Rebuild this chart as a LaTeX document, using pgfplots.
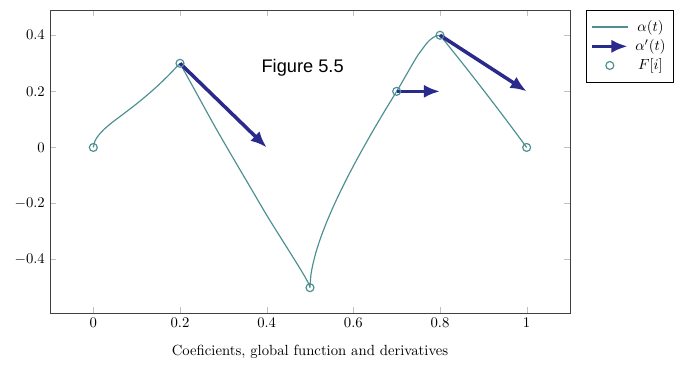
\documentclass[border=0pt]{standalone}
\usepackage{pgfplots}
\pgfplotsset{compat=1.18}
\usepackage{fontspec}
\newfontfamily\helv{Liberation Sans}
\usetikzlibrary{arrows.meta}
\definecolor{tealc}{RGB}{77,144,146}
\definecolor{arrc}{RGB}{42,42,140}
\pgfplotsset{
  alphalegend/.style={legend image code/.code={\draw[draw=tealc, line width=1pt] (0cm,0cm) -- (0.85cm,0cm);}},
  arrowlegend/.style={legend image code/.code={\draw[draw=arrc, fill=arrc, line width=2.4pt, -{Latex[length=11pt,width=9pt]}] (0cm,0cm) -- (0.85cm,0cm);}},
  mymarklegend/.style={legend image code/.code={\draw[##1] plot coordinates {(0.425cm,0cm)};}},
}
\begin{document}
\begin{tikzpicture}
\useasboundingbox (-34pt,-35.4pt) rectangle (425pt,212.8pt);
\begin{axis}[
  scale only axis, width=353.6pt, height=206pt,
  xmin=-0.1, xmax=1.1, ymin=-0.59, ymax=0.49,
  xtick={0,0.2,0.4,0.6,0.8,1}, ytick={-0.4,-0.2,0,0.2,0.4},
  xlabel={Coeficients, global function and derivatives},
  xlabel style={yshift=-5pt},
  axis line style={black!75},
  major tick style={black!25},
  legend pos=outer north east,
  legend style={inner ysep=5pt, column sep=2pt},
  unbounded coords=jump,
]
\addplot[tealc, draw=tealc, thick, smooth, tension=0.45, alphalegend] coordinates {
 (0,0) (0.004,0.024) (0.012,0.043) (0.025,0.065) (0.045,0.091) (0.07,0.120) (0.1,0.1557) (0.125,0.1876) (0.15,0.2220) (0.175,0.2594) (0.2,0.3)
 (0.2,nan)
 (0.2,0.3) (0.24,0.188) (0.28,0.076) (0.32,-0.031) (0.36,-0.136) (0.40,-0.2413) (0.43,-0.3157) (0.455,-0.3771) (0.475,-0.4268) (0.488,-0.4603) (0.496,-0.483) (0.499,-0.4936) (0.5,-0.5)
 (0.5,nan)
 (0.5,-0.5) (0.502,-0.4566) (0.506,-0.4212) (0.514,-0.3724) (0.525,-0.3202) (0.54,-0.2603) (0.56,-0.190) (0.585,-0.1109) (0.61,-0.0377) (0.64,0.0451) (0.67,0.124) (0.7,0.2)
 (0.71,0.2259) (0.72,0.2528) (0.74,0.3064) (0.75,0.3313) (0.77,0.3726) (0.78,0.3872) (0.79,0.3967) (0.8,0.4)
 (0.8,nan)
 (0.8,0.4) (0.84,0.3232) (0.88,0.2448) (0.92,0.1648) (0.96,0.0832) (1,0)
};
\addlegendentry{$\alpha(t)$}
\addplot[arrc, draw=arrc, fill=arrc, line width=2.4pt, -{Latex[length=11pt,width=9pt]},
  quiver={u=\thisrow{u}, v=\thisrow{v}}, arrowlegend] table {
x y u v
0.2 0.3 0.2 -0.3
0.7 0.2 0.1 0
0.8 0.4 0.2 -0.2
};
\addlegendentry{$\alpha'(t)$}
\addplot[tealc, draw=tealc, thick, only marks, mark=o, mark size=2.7pt, mymarklegend] table {
x y
0 0
0.2 0.3
0.5 -0.5
0.7 0.2
0.8 0.4
1 0
};
\addlegendentry{$F[i]$}
\node[font=\helv\fontsize{12.4}{14}\selectfont, anchor=base] at (axis cs:0.483,0.267) {Figure 5.5};
\end{axis}
\end{tikzpicture}
\end{document}
